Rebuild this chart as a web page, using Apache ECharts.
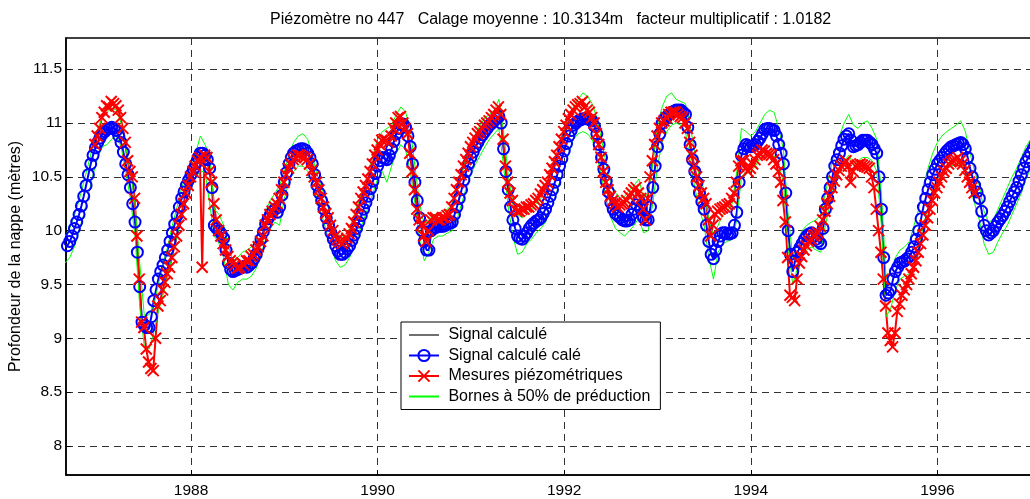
<!DOCTYPE html>
<html><head><meta charset="utf-8">
<script src="https://cdn.jsdelivr.net/npm/echarts@6/dist/echarts.min.js"></script>
<style>html,body{margin:0;padding:0;background:#fff}#c{width:1030px;height:499px}</style>
</head><body><div id="c"></div><script>
const titleText = 'Piézomètre no 447   Calage moyenne : 10.3134m   facteur multiplicatif : 1.0182';
const yName = 'Profondeur de la nappe (mètres)';
const seriesNames = ['Signal calculé', 'Signal calculé calé', 'Mesures piézométriques', 'Bornes à 50% de préduction'];
const xTicks = [1988, 1990, 1992, 1994, 1996];
const yTicks = [8, 8.5, 9, 9.5, 10, 10.5, 11, 11.5];

// Signal calculé (hors de la fenêtre visible)
const signalCalcule = [];

// Signal calculé calé : un point toutes les 0.025 année à partir de 1986.65
const caleStart = 1986.65, caleStep = 0.025;
const signalCale = [
  9.84,9.86,9.90,9.95,10.02,10.08,10.15,10.23,10.32,10.42,10.52,10.62,10.70,10.77,
  10.82,10.86,10.90,10.92,10.94,10.95,10.96,10.95,10.93,10.88,10.82,10.73,10.62,10.52,10.40,10.25,10.08,9.80,9.48,9.15,
  9.12,9.10,9.10,9.20,9.35,9.45,9.55,9.62,9.68,9.75,9.82,9.90,9.98,10.06,10.14,10.22,10.30,10.36,10.42,10.47,
  10.52,10.57,10.62,10.68,10.72,10.72,10.70,10.66,10.58,10.40,10.05,10.02,10.00,9.97,9.93,9.82,9.70,9.64,9.62,9.63,
  9.64,9.65,9.66,9.67,9.66,9.68,9.70,9.74,9.78,9.85,9.92,9.99,10.06,10.11,10.15,10.18,10.20,10.17,10.22,10.33,
  10.45,10.54,10.62,10.68,10.72,10.74,10.75,10.76,10.76,10.75,10.72,10.68,10.62,10.52,10.42,10.35,10.28,10.20,10.12,10.05,
  9.98,9.92,9.86,9.81,9.78,9.78,9.80,9.83,9.86,9.91,9.96,10.02,10.08,10.14,10.20,10.26,10.32,10.39,10.46,10.53,
  10.60,10.65,10.68,10.67,10.66,10.70,10.76,10.83,10.90,10.95,10.99,10.99,10.96,10.88,10.78,10.62,10.45,10.28,10.12,10.00,
  9.90,9.82,9.82,10.00,10.02,10.03,10.04,10.04,10.04,10.05,10.06,10.07,10.08,10.15,10.22,10.30,10.38,10.47,10.55,10.62,
  10.68,10.73,10.78,10.82,10.86,10.89,10.92,10.95,10.98,11.00,11.02,11.04,11.06,11.00,10.76,10.55,10.38,10.22,10.10,10.02,
  9.95,9.93,9.92,9.95,9.98,10.02,10.05,10.07,10.09,10.10,10.12,10.16,10.20,10.26,10.32,10.38,10.45,10.52,10.60,10.67,
  10.74,10.81,10.88,10.93,10.98,11.00,11.02,11.03,11.04,11.04,11.04,11.03,11.02,10.97,10.90,10.80,10.68,10.57,10.46,10.36,
  10.26,10.20,10.16,10.14,10.12,10.10,10.09,10.09,10.10,10.15,10.20,10.24,10.28,10.20,10.12,10.10,10.10,10.22,10.40,10.60,
  10.78,10.90,11.00,11.04,11.06,11.08,11.10,11.11,11.12,11.12,11.12,11.10,11.08,10.96,10.80,10.66,10.55,10.45,10.35,10.27,
  10.20,10.05,9.90,9.78,9.74,9.82,9.90,9.95,9.98,9.98,9.97,9.97,9.98,10.05,10.17,10.45,10.70,10.76,10.80,10.79,
  10.78,10.79,10.80,10.83,10.86,10.90,10.94,10.95,10.95,10.94,10.93,10.88,10.80,10.72,10.62,10.35,10.00,9.78,9.62,9.72,
  9.80,9.84,9.88,9.92,9.95,9.97,9.98,9.95,9.92,9.90,9.88,10.02,10.20,10.30,10.40,10.50,10.60,10.66,10.72,10.79,
  10.85,10.88,10.90,10.84,10.78,10.79,10.80,10.82,10.84,10.84,10.84,10.82,10.80,10.76,10.72,10.50,10.20,9.75,9.40,9.42,
  9.45,9.55,9.62,9.66,9.70,9.71,9.72,9.74,9.76,9.80,9.85,9.92,10.00,10.11,10.22,10.30,10.38,10.45,10.52,10.57,
  10.62,10.65,10.68,10.71,10.74,10.76,10.78,10.79,10.80,10.81,10.82,10.80,10.76,10.68,10.58,10.50,10.42,10.36,10.30,10.18,
  10.05,10.00,9.96,9.98,10.00,10.04,10.08,10.11,10.14,10.18,10.22,10.27,10.32,10.36,10.40,10.46,10.52,10.58,10.64,10.68,
  10.72,10.76,10.80
];

// Bornes à 50 % : un point toutes les 0.05 année à partir de 1986.65
const borneStart = 1986.65, borneStep = 0.05;
const borneHaute = [
  9.95,10.02,10.14,10.28,10.45,10.62,10.80,
  10.95,11.05,11.10,11.14,11.12,11.00,10.78,10.55,10.25,9.70,9.20,9.22,9.30,9.50,9.68,9.85,10.05,10.22,10.40,10.52,
  10.62,10.72,10.88,10.80,10.70,10.20,10.15,10.05,9.85,9.72,9.75,9.80,9.82,9.85,9.92,10.05,10.18,10.28,10.35,10.42,
  10.55,10.70,10.82,10.88,10.90,10.85,10.70,10.52,10.40,10.28,10.12,10.00,9.95,9.95,10.02,10.15,10.28,10.40,10.55,10.70,
  10.85,10.92,10.95,10.98,11.08,11.15,11.10,10.95,10.60,10.25,10.05,10.10,10.15,10.15,10.18,10.20,10.25,10.40,10.55,10.68,
  10.80,10.90,10.98,11.05,11.08,11.12,11.22,10.92,10.52,10.25,10.15,10.12,10.15,10.20,10.25,10.30,10.38,10.48,10.62,10.78,
  10.92,11.05,11.15,11.22,11.28,11.25,11.18,11.05,10.85,10.62,10.45,10.35,10.30,10.32,10.38,10.42,10.48,10.30,10.35,10.62,
  10.98,11.15,11.25,11.28,11.22,11.20,11.18,10.98,10.72,10.50,10.38,10.10,9.95,10.05,10.15,10.18,10.25,10.55,10.95,10.92,
  10.88,10.92,11.00,11.08,11.12,11.10,10.95,10.75,10.15,9.75,9.90,10.00,10.05,10.08,10.10,10.15,10.35,10.55,10.75,10.88,
  11.00,11.08,10.98,10.95,11.00,11.02,10.95,10.85,10.35,9.55,9.62,9.75,9.82,9.85,9.90,10.05,10.20,10.42,10.58,10.72,
  10.82,10.88,10.92,10.95,10.98,11.02,10.92,10.72,10.55,10.42,10.18,10.08,10.10,10.20,10.30,10.40,10.50,10.58,10.68,10.78,
  10.85,10.92
];
const borneBasse = [
  9.70,9.75,9.85,10.00,10.15,10.33,10.52,
  10.68,10.78,10.80,10.85,10.88,10.78,10.55,10.30,9.95,9.30,8.92,8.90,9.05,9.25,9.40,9.58,9.78,9.95,10.12,10.28,
  10.40,10.50,10.55,10.55,10.25,9.95,9.88,9.75,9.50,9.45,9.52,9.55,9.55,9.58,9.65,9.78,9.92,10.02,10.08,10.05,
  10.30,10.45,10.55,10.60,10.60,10.55,10.42,10.30,10.15,10.00,9.85,9.72,9.66,9.68,9.75,9.85,9.98,10.10,10.22,10.35,
  10.48,10.55,10.45,10.60,10.72,10.80,10.75,10.55,10.25,9.92,9.72,9.80,9.92,9.95,9.95,9.98,10.00,10.10,10.25,10.40,
  10.52,10.62,10.70,10.78,10.85,10.90,10.95,10.60,10.22,9.95,9.78,9.80,9.88,9.92,9.98,10.02,10.08,10.18,10.30,10.45,
  10.58,10.72,10.85,10.90,10.92,10.90,10.85,10.70,10.50,10.30,10.12,10.02,9.98,9.95,10.00,10.05,10.12,9.98,10.00,10.25,
  10.60,10.82,10.92,10.98,11.00,10.98,10.92,10.65,10.40,10.20,10.05,9.75,9.55,9.80,9.88,9.90,9.92,10.10,10.50,10.55,
  10.55,10.60,10.68,10.72,10.72,10.70,10.60,10.45,9.85,9.50,9.65,9.78,9.82,9.85,9.82,9.80,10.05,10.25,10.45,10.55,
  10.65,10.70,10.62,10.65,10.68,10.68,10.65,10.55,10.05,9.20,9.28,9.45,9.55,9.58,9.60,9.70,9.85,10.05,10.22,10.35,
  10.48,10.52,10.58,10.60,10.62,10.62,10.58,10.40,10.25,10.10,9.88,9.78,9.80,9.90,9.98,10.05,10.15,10.25,10.35,10.48,
  10.58,10.65
];

// Mesures piézométriques : un relevé toutes les 0.025 année à partir de 1986.97
const mesStart = 1986.97, mesStep = 0.025;
const mesures = [
  10.80,10.88,
  10.95,11.05,11.10,11.16,11.15,11.20,11.18,11.16,11.12,11.05,10.95,10.82,10.65,10.55,10.50,10.30,9.95,9.55,9.15,9.10,
  8.90,8.78,8.72,8.70,9.00,9.30,9.35,9.45,9.52,9.60,9.66,9.75,9.85,9.95,10.05,10.15,10.25,10.35,10.42,10.50,
  10.55,10.60,10.65,10.68,9.66,10.70,10.68,10.55,10.45,10.25,10.10,10.00,9.95,9.88,9.82,9.76,9.72,9.70,9.68,9.65,
  9.66,9.70,9.68,9.72,9.72,9.76,9.78,9.82,9.85,9.90,9.95,10.05,10.10,10.15,10.18,10.22,10.25,10.30,10.38,10.45,
  10.52,10.58,10.62,10.66,10.68,10.70,10.70,10.69,10.68,10.66,10.62,10.56,10.50,10.45,10.38,10.30,10.22,10.16,10.12,10.05,
  10.00,9.95,9.92,9.90,9.88,9.90,9.93,9.97,10.02,10.08,10.15,10.22,10.30,10.36,10.42,10.48,10.55,10.62,10.70,10.75,
  10.80,10.84,10.85,10.84,10.82,10.88,10.95,11.00,11.05,11.06,11.00,10.95,10.90,10.72,10.55,10.38,10.20,10.10,10.05,9.95,
  9.90,10.00,10.10,10.12,10.12,10.10,10.10,10.12,10.12,10.14,10.15,10.22,10.30,10.38,10.45,10.52,10.60,10.66,10.72,10.78,
  10.82,10.86,10.90,10.92,10.95,10.98,11.00,11.02,11.05,11.08,11.12,11.15,11.08,10.85,10.60,10.45,10.35,10.28,10.20,10.18,
  10.18,10.20,10.20,10.22,10.22,10.24,10.25,10.28,10.30,10.34,10.38,10.42,10.45,10.52,10.58,10.64,10.70,10.78,10.85,10.92,
  10.98,11.04,11.08,11.12,11.15,11.17,11.18,11.20,11.15,11.12,11.10,11.05,11.00,10.90,10.80,10.68,10.55,10.45,10.38,10.32,
  10.28,10.25,10.22,10.24,10.25,10.26,10.28,10.32,10.35,10.38,10.40,10.35,10.30,10.20,10.10,10.30,10.50,10.65,10.80,10.88,
  10.95,11.00,11.02,11.05,11.08,11.10,11.10,11.10,11.08,11.06,11.05,11.00,10.95,10.82,10.70,10.60,10.50,10.42,10.35,10.30,
  10.25,10.10,9.95,10.05,10.15,10.18,10.20,10.21,10.22,10.24,10.25,10.30,10.35,10.45,10.60,10.65,10.65,10.58,10.55,10.58,
  10.62,10.66,10.70,10.72,10.75,10.74,10.72,10.71,10.70,10.66,10.62,10.55,10.45,10.28,10.08,9.75,9.40,9.38,9.35,9.55,
  9.70,9.76,9.82,9.86,9.90,9.92,9.95,9.96,9.98,10.04,10.10,10.18,10.25,10.32,10.40,10.46,10.52,10.56,10.60,10.62,
  10.65,10.60,10.45,10.55,10.60,10.61,10.62,10.61,10.60,10.59,10.58,10.50,10.40,10.20,10.00,9.80,9.55,9.30,9.05,8.98,
  8.92,9.05,9.25,9.32,9.40,9.45,9.50,9.55,9.60,9.66,9.72,9.80,9.88,9.96,10.05,10.12,10.20,10.28,10.35,10.40,
  10.45,10.50,10.55,10.58,10.62,10.64,10.65,10.66,10.68,10.65,10.62,10.56,10.50,10.45,10.40,10.35
];

function toPairs(start, step, vals) {
  return vals.map((v, i) => [Math.round((start + i * step) * 1000) / 1000, v]);
}

const FONT = "'Liberation Sans', Arial, Helvetica, sans-serif";
const gridLine = { show: true, lineStyle: { color: '#333', type: [7, 5], width: 1 } };
const noSymbol = { color: 'rgba(0,0,0,0)', borderWidth: 0 };

const chart = echarts.init(document.getElementById('c'), null, { renderer: 'canvas' });
chart.setOption({
  animation: false,
  backgroundColor: '#fff',
  textStyle: { fontFamily: FONT },
  title: {
    text: titleText, left: 265, top: 7,
    textStyle: { fontSize: 16, fontWeight: 'normal', color: '#000', fontFamily: FONT }
  },
  grid: {
    left: 66, top: 38, width: 974, height: 437, outerBoundsMode: 'none', containLabel: false,
    show: true, borderColor: '#000', borderWidth: 1.5, backgroundColor: 'transparent'
  },
  xAxis: {
    type: 'value', min: 1986.66, max: 1997.1,
    axisLine: { show: true, onZero: false, lineStyle: { color: '#000', width: 1.5 } },
    axisTick: { show: true, inside: true, length: 5, customValues: xTicks, lineStyle: { color: '#000' } },
    axisLabel: { customValues: xTicks, color: '#000', fontSize: 15.5, margin: 8, fontFamily: FONT, formatter: v => String(v) },
    splitLine: gridLine
  },
  yAxis: {
    type: 'value', min: 7.73, max: 11.79,
    name: yName, nameLocation: 'middle', nameGap: 42, nameMoveOverlap: false,
    nameTextStyle: { fontSize: 16, color: '#000', fontFamily: FONT },
    axisLine: { show: true, onZero: false, lineStyle: { color: '#000', width: 1.5 } },
    axisTick: { show: true, inside: true, length: 5, customValues: yTicks, lineStyle: { color: '#000' } },
    axisLabel: { customValues: yTicks, color: '#000', fontSize: 15.5, margin: 4, fontFamily: FONT, formatter: v => String(v) },
    splitLine: gridLine
  },
  legend: {
    orient: 'vertical', left: 401, top: 322,
    itemWidth: 30, itemHeight: 14, itemGap: 4.5,
    padding: [5, 10, 5, 7],
    borderColor: '#000', borderWidth: 1, backgroundColor: '#fff',
    textStyle: { fontSize: 16, color: '#000', fontFamily: FONT },
    formatter: name => ' ' + name,
    data: [
      { name: seriesNames[0], itemStyle: noSymbol },
      { name: seriesNames[1] },
      { name: seriesNames[2] },
      { name: seriesNames[3], itemStyle: noSymbol }
    ]
  },
  series: [
    {
      name: seriesNames[0], type: 'line', data: toPairs(caleStart, caleStep, signalCalcule),
      symbol: 'none', lineStyle: { color: '#707070', width: 1 }, itemStyle: { color: '#707070' }
    },
    {
      name: seriesNames[1], type: 'line', data: toPairs(caleStart, caleStep, signalCale),
      symbol: 'circle', symbolSize: 11, showAllSymbol: true,
      lineStyle: { color: '#0000ff', width: 2 },
      itemStyle: { color: 'rgba(0,0,0,0)', borderColor: '#0000ff', borderWidth: 2 }
    },
    {
      name: seriesNames[2], type: 'line', data: toPairs(mesStart, mesStep, mesures),
      symbol: 'path://M0,0L10,10M0,10L10,0', symbolSize: 11, showAllSymbol: true,
      lineStyle: { color: '#ff0000', width: 2 },
      itemStyle: { color: 'rgba(0,0,0,0)', borderColor: '#ff0000', borderWidth: 2 }
    },
    {
      name: seriesNames[3], type: 'line', data: toPairs(borneStart, borneStep, borneHaute),
      symbol: 'none', lineStyle: { color: '#00ff00', width: 1 }, itemStyle: { color: '#00ff00' }
    },
    {
      name: seriesNames[3], type: 'line', data: toPairs(borneStart, borneStep, borneBasse),
      symbol: 'none', lineStyle: { color: '#00ff00', width: 1 }, itemStyle: { color: '#00ff00' }
    }
  ]
});
</script></body></html>
